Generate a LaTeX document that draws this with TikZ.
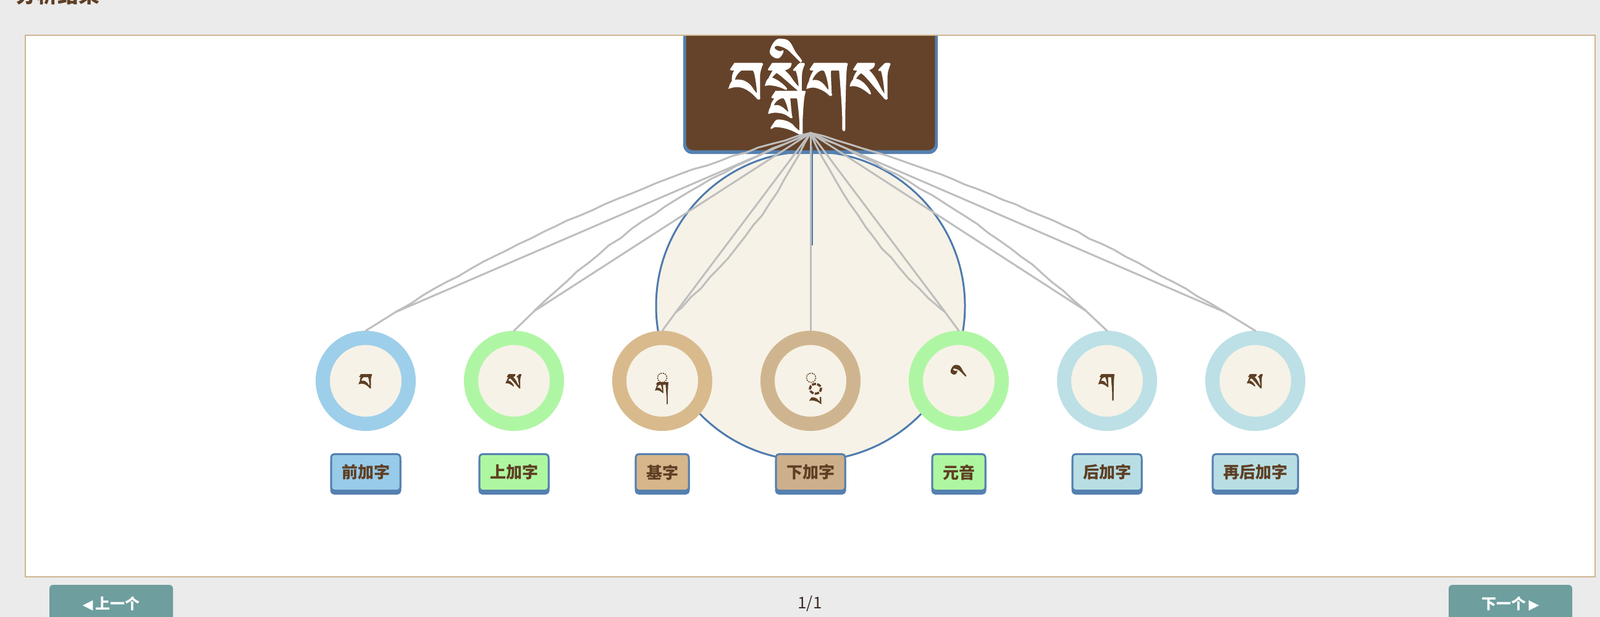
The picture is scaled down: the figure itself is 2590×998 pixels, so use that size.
\documentclass[tikz,border=0pt]{standalone}
\usepackage{fontspec}
\usetikzlibrary{shadows,decorations.pathmorphing}
\newfontfamily\cjk{Noto Sans CJK SC}
\newfontfamily\symf{DejaVu Sans}
\newfontfamily\tib[Script=Tibetan,FakeBold=1.2]{Jomolhari}
\newfontfamily\tibb[Script=Tibetan,FakeBold=1.6]{Jomolhari}
\definecolor{bggray}{HTML}{EBEBEB}
\definecolor{paneltan}{HTML}{CFB590}
\definecolor{hbrown}{HTML}{65432A}
\definecolor{blueb}{HTML}{5580B0}
\definecolor{cblue}{HTML}{4E7AAE}
\definecolor{cream}{HTML}{F6F2E7}
\definecolor{linegray}{HTML}{BEBEBE}
\definecolor{tbrown}{HTML}{5E3F24}
\definecolor{btnteal}{HTML}{6E9E9E}
\definecolor{pgtext}{HTML}{3B2B27}
\definecolor{rblue}{HTML}{9DCFEA}
\definecolor{rgreen}{HTML}{AFF6A4}
\definecolor{rtan}{HTML}{D9BA8D}
\definecolor{rkhaki}{HTML}{CFB58F}
\definecolor{rlblue}{HTML}{BCE0E6}
\definecolor{bblue}{HTML}{97CBE9}
\definecolor{bgreen}{HTML}{AEF7A0}
\definecolor{btan}{HTML}{D6B68A}
\definecolor{bkhaki}{HTML}{CDB08B}
\definecolor{blblue}{HTML}{B8DEE4}
\begin{document}
\begin{tikzpicture}[x=1pt,y=-1pt,
  conn/.style={draw=linegray, line width=3pt, line cap=round, line join=round},
  wavy/.style={conn, decorate, decoration={random steps, segment length=22pt, amplitude=1.3pt}},
  ring/.style={circle, draw=#1, line width=23pt, fill=cream, minimum size=139pt, inner sep=0pt},
  glyph/.style={anchor=base, inner sep=0pt, text=tbrown, font=\tibb\fontsize{#1}{#1}\selectfont},
  glyph/.default=48,
  dotc/.style={draw=tbrown, line width=1.6pt, dash pattern=on 2pt off 1.6pt},
  lab/.style={rectangle, rounded corners=5pt, draw=blueb, line width=3pt, fill=#1,
    text=tbrown, font=\cjk\bfseries\fontsize{26}{26}\selectfont,
    inner xsep=17pt, inner ysep=0pt, minimum height=59pt,
    drop shadow={shadow xshift=0pt, shadow yshift=-5pt, fill=blueb, draw=blueb, line width=3pt, opacity=1}},
  btn/.style={rectangle, rounded corners=6pt, fill=btnteal, text=white,
    minimum width=200pt, minimum height=62pt, inner sep=0pt,
    font=\cjk\bfseries\fontsize{24}{24}\selectfont}]
\useasboundingbox (0,0) rectangle (2590,998);
\clip (0,0) rectangle (2590,998);
\fill[bggray] (0,0) rectangle (2590,998);
\node[anchor=base west, text=tbrown, font=\cjk\bfseries\fontsize{34}{34}\selectfont, inner sep=0pt] (title) at (25,4.5) {分析结果};
\draw[paneltan, line width=2.5pt, fill=white] (41,57) rectangle (2582,933);
% big circle
\node[circle, draw=cblue, line width=3pt, fill=cream, minimum size=500pt, inner sep=0pt] (big) at (1312,495) {};
% header box
\begin{scope}
\clip (0,58.3) rectangle (2590,998);
\fill[blueb, rounded corners=14pt] (1106,20) rectangle (1518,249);
\fill[hbrown, rounded corners=11pt] (1110.5,20) rectangle (1513.5,243);
\end{scope}
\node[anchor=base, text=white, font=\tib\fontsize{124}{124}\selectfont, inner sep=0pt] (head) at (1312,194) {བསྒྲིགས};
\coordinate (hub) at (1312,215);
\draw[cblue, line width=2.5pt] (1315,237) -- (1315,397);
% rings
\node[ring=rblue]  (r1) at (592,616)  {};
\node[ring=rgreen] (r2) at (832,616)  {};
\node[ring=rtan]   (r3) at (1072,616) {};
\node[ring=rkhaki] (r4) at (1312,616) {};
\node[ring=rgreen] (r5) at (1552,616) {};
\node[ring=rlblue] (r6) at (1792,616) {};
\node[ring=rlblue] (r7) at (2032,616) {};
% ring letters
\node[glyph] (g1) at (592,641) {བ};
\node[glyph] (g2) at (832,641) {ས};
\draw[dotc] (1072,611) circle (7.5);
\node[glyph=40] (g3) at (1072,648) {ག};
\draw[dotc] (1313,611) circle (7.5);
\node[glyph] (g4) at (1313,655) {^^^^00a0^^^^0fb2};
\node[glyph=60] (g5) at (1557,654) {^^^^00a0^^^^0f72};
\node[glyph] (g6) at (1792,641) {ག};
\node[glyph] (g7) at (2032,641) {ས};
% bend points
\coordinate (p1) at (640,505);
\coordinate (p2) at (865,503);
\coordinate (p3) at (1094,505);
\coordinate (p5) at (1530,505);
\coordinate (p6) at (1758,503);
\coordinate (p7) at (1983,505);
% connectors
\draw[conn] (hub) -- (p1) -- (r1.north);
\draw[wavy] (hub) .. controls (1074.5,280.5) and (850.5,377.1) .. (p1);
\draw[conn] (hub) -- (p2) -- (r2.north);
\draw[wavy] (hub) .. controls (1143.5,281) and (994.5,377) .. (p2);
\draw[conn] (hub) -- (p3) -- (r3.north);
\draw[wavy] (hub) .. controls (1257,325) and (1184,421.5) .. (p3);
\draw[conn] (hub) -- (r4.north);
\draw[conn] (hub) -- (p5) -- (r5.north);
\draw[wavy] (hub) .. controls (1364,327) and (1437,424) .. (p5);
\draw[conn] (hub) -- (p6) -- (r6.north);
\draw[wavy] (hub) .. controls (1476.7,286) and (1625.3,382) .. (p6);
\draw[conn] (hub) -- (p7) -- (r7.north);
\draw[wavy] (hub) .. controls (1549.2,280.5) and (1772.8,377.1) .. (p7);
% labels
\node[lab=bblue]  (l1) at (592,764)  {前加字};
\node[lab=bgreen] (l2) at (832,764)  {上加字};
\node[lab=btan]   (l3) at (1072,764) {基字};
\node[lab=bkhaki] (l4) at (1312,764) {下加字};
\node[lab=bgreen] (l5) at (1552,764) {元音};
\node[lab=blblue] (l6) at (1792,764) {后加字};
\node[lab=blblue] (l7) at (2032,764) {再后加字};
% footer
\node[btn] (prev) at (180,977) {{\symf\fontsize{22}{22}\selectfont ◀}\,上一个};
\node[btn] (next) at (2445,977) {下一个\,{\symf\fontsize{22}{22}\selectfont ▶}};
\node[text=pgtext, font=\cjk\fontsize{26}{26}\selectfont, inner sep=0pt] (page) at (1311,976) {1/1};
\end{tikzpicture}
\end{document}
